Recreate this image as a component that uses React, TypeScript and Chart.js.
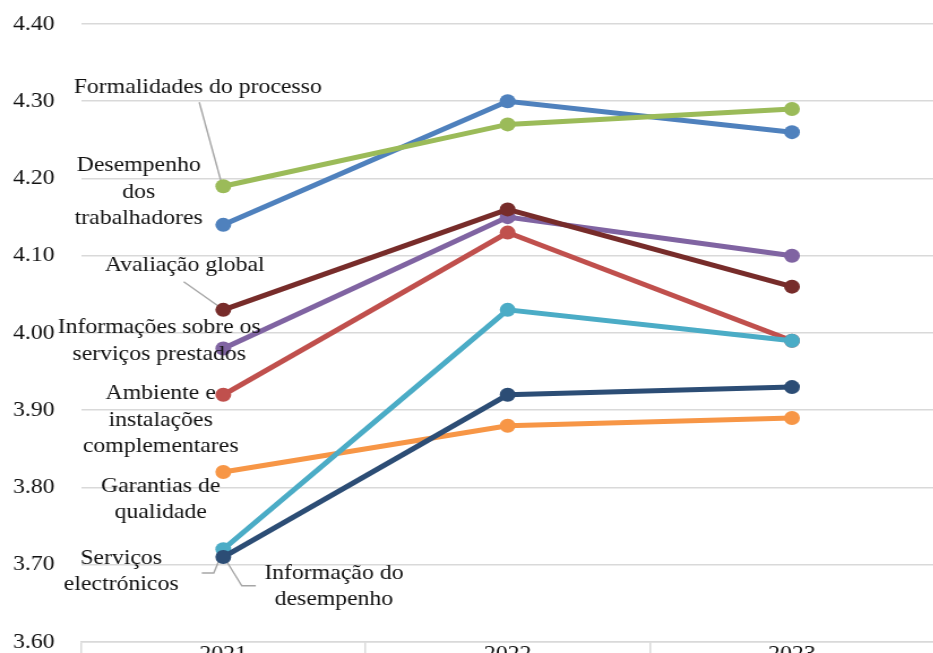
import React, { useEffect, useRef } from "react";
import { Chart, registerables } from "chart.js";

Chart.register(...registerables);

// ---------- data ----------
const years = ["2021", "2022", "2023"];
const yMin = 3.6;
const yMax = 4.4;
const yStep = 0.1;

const seriesNames = [
  "Informação do desempenho",
  "Serviços electrónicos",
  "Garantias de qualidade",
  "Avaliação global",
  "Informações sobre os serviços prestados",
  "Ambiente e instalações complementares",
  "Formalidades do processo",
  "Desempenho dos trabalhadores",
];

const informacaoDesempenho = [3.71, 3.92, 3.93];
const servicosElectronicos = [3.72, 4.03, 3.99];
const garantiasQualidade = [3.82, 3.88, 3.89];
const avaliacaoGlobal = [4.03, 4.16, 4.06];
const informacoesServicos = [3.98, 4.15, 4.1];
const ambienteInstalacoes = [3.92, 4.13, 3.99];
const formalidadesProcesso = [4.19, 4.27, 4.29];
const desempenhoTrabalhadores = [4.14, 4.3, 4.26];

const seriesValues = [
  informacaoDesempenho,
  servicosElectronicos,
  garantiasQualidade,
  avaliacaoGlobal,
  informacoesServicos,
  ambienteInstalacoes,
  formalidadesProcesso,
  desempenhoTrabalhadores,
];

const seriesColors = [
  "#2C4D75",
  "#4BACC6",
  "#F79646",
  "#772C2A",
  "#8064A2",
  "#C0504D",
  "#9BBB59",
  "#4F81BD",
];

// label lines for each series (text)
const labelLines = [
  ["Informação do", "desempenho"],
  ["Serviços", "electrónicos"],
  ["Garantias de", "qualidade"],
  ["Avaliação global"],
  ["Informações sobre os", "serviços prestados"],
  ["Ambiente e", "instalações", "complementares"],
  ["Formalidades do processo"],
  ["Desempenho", "dos", "trabalhadores"],
];

// ---------- layout / style ----------
const SX = 1.13; // horizontal stretch of the original picture
const FONT = "'Times New Roman', 'Liberation Serif', serif";
const FONT_SIZE = 21;
const LINE_H = 26.5;
const INNER_W = 941 / SX;
const INNER_H = 700;
const PLOT_TOP = 24;
const PLOT_BOTTOM = 642;

// label placement, in screen pixels relative to the 2021 point of the series
const labelLayout: { dx: number; dy: number; leader?: number[][] }[] = [
  { dx: 110.5, dy: 16, leader: [[32.5, 28.7], [18.5, 28.7], [2.5, 3]] },
  { dx: -102, dy: 9, leader: [[-21.5, 23.7], [-9.5, 23.7], [-3, 8]] },
  { dx: -62.5, dy: 14 },
  { dx: -38.5, dy: -44, leader: [[-39.5, -28], [-4, -3]] },
  { dx: -64, dy: -20.5 },
  { dx: -62.5, dy: -1 },
  { dx: -25.5, dy: -99, leader: [[-24, -84], [-2, -4]] },
  { dx: -84.5, dy: -59 },
];

const labelPlugin = {
  id: "seriesLabels",
  beforeDatasetsDraw(chart: any) {
    const ctx = chart.ctx;
    ctx.save();
    ctx.strokeStyle = "#A6A6A6";
    ctx.lineWidth = 1.4;
    labelLayout.forEach((lay, i) => {
      if (!lay.leader) return;
      const p = chart.getDatasetMeta(i).data[0];
      ctx.beginPath();
      lay.leader.forEach(([lx, ly], k) => {
        const x = p.x + lx / SX;
        const y = p.y + ly;
        if (k === 0) ctx.moveTo(x, y);
        else ctx.lineTo(x, y);
      });
      ctx.stroke();
    });
    ctx.restore();
  },
  afterDatasetsDraw(chart: any) {
    const ctx = chart.ctx;
    ctx.save();
    ctx.fillStyle = "#111";
    ctx.font = `${FONT_SIZE}px ${FONT}`;
    ctx.textAlign = "center";
    ctx.textBaseline = "middle";
    labelLayout.forEach((lay, i) => {
      const p = chart.getDatasetMeta(i).data[0];
      labelLines[i].forEach((line, k) => {
        ctx.fillText(line, p.x + lay.dx / SX, p.y + lay.dy + k * LINE_H);
      });
    });
    ctx.restore();
  },
};

export default function App() {
  const canvasRef = useRef<HTMLCanvasElement>(null);

  useEffect(() => {
    const chart = new Chart(canvasRef.current!, {
      type: "line",
      data: {
        labels: years,
        datasets: seriesValues.map((vals, i) => ({
          label: seriesNames[i],
          data: vals,
          borderColor: seriesColors[i],
          backgroundColor: seriesColors[i],
          borderWidth: 5,
          pointRadius: 7,
          pointBorderWidth: 0,
          pointHoverRadius: 7,
          tension: 0,
          order: i,
        })),
      },
      options: {
        animation: false,
        responsive: true,
        maintainAspectRatio: false,
        layout: { padding: { top: PLOT_TOP, left: 0, right: 0, bottom: 0 } },
        plugins: {
          legend: { display: false },
          tooltip: { enabled: false },
        },
        scales: {
          x: {
            offset: true,
            grid: {
              offset: true,
              drawOnChartArea: false,
              drawTicks: true,
              tickLength: 20,
              color: "#D9D9D9",
              lineWidth: 1.5,
            },
            border: { display: true, color: "#D9D9D9", width: 1.5 },
            ticks: {
              padding: -20,
              color: "#111",
              font: { family: FONT, size: FONT_SIZE },
            },
            afterFit: (s: any) => {
              s.height = INNER_H - PLOT_BOTTOM;
              s.paddingLeft = 0;
              s.paddingRight = 0;
            },
          },
          y: {
            min: yMin,
            max: yMax,
            grid: {
              color: "#D9D9D9",
              lineWidth: 1.5,
              drawTicks: false,
            },
            border: { display: false },
            ticks: {
              stepSize: yStep,
              padding: 23.5,
              color: "#111",
              font: { family: FONT, size: FONT_SIZE },
              callback: (v: any) => Number(v).toFixed(2),
            },
            afterFit: (s: any) => {
              s.width = 81 / SX;
              s.paddingTop = 0;
              s.paddingBottom = 0;
            },
          },
        },
      },
      plugins: [labelPlugin],
    });
    return () => chart.destroy();
  }, []);

  return (
    <div
      style={{
        position: "fixed",
        left: 0,
        top: 0,
        width: 933,
        height: 653,
        overflow: "hidden",
        background: "#fff",
      }}
    >
      <div
        style={{
          width: INNER_W,
          height: INNER_H,
          transform: `scaleX(${SX})`,
          transformOrigin: "0 0",
        }}
      >
        <canvas ref={canvasRef} />
      </div>
    </div>
  );
}
